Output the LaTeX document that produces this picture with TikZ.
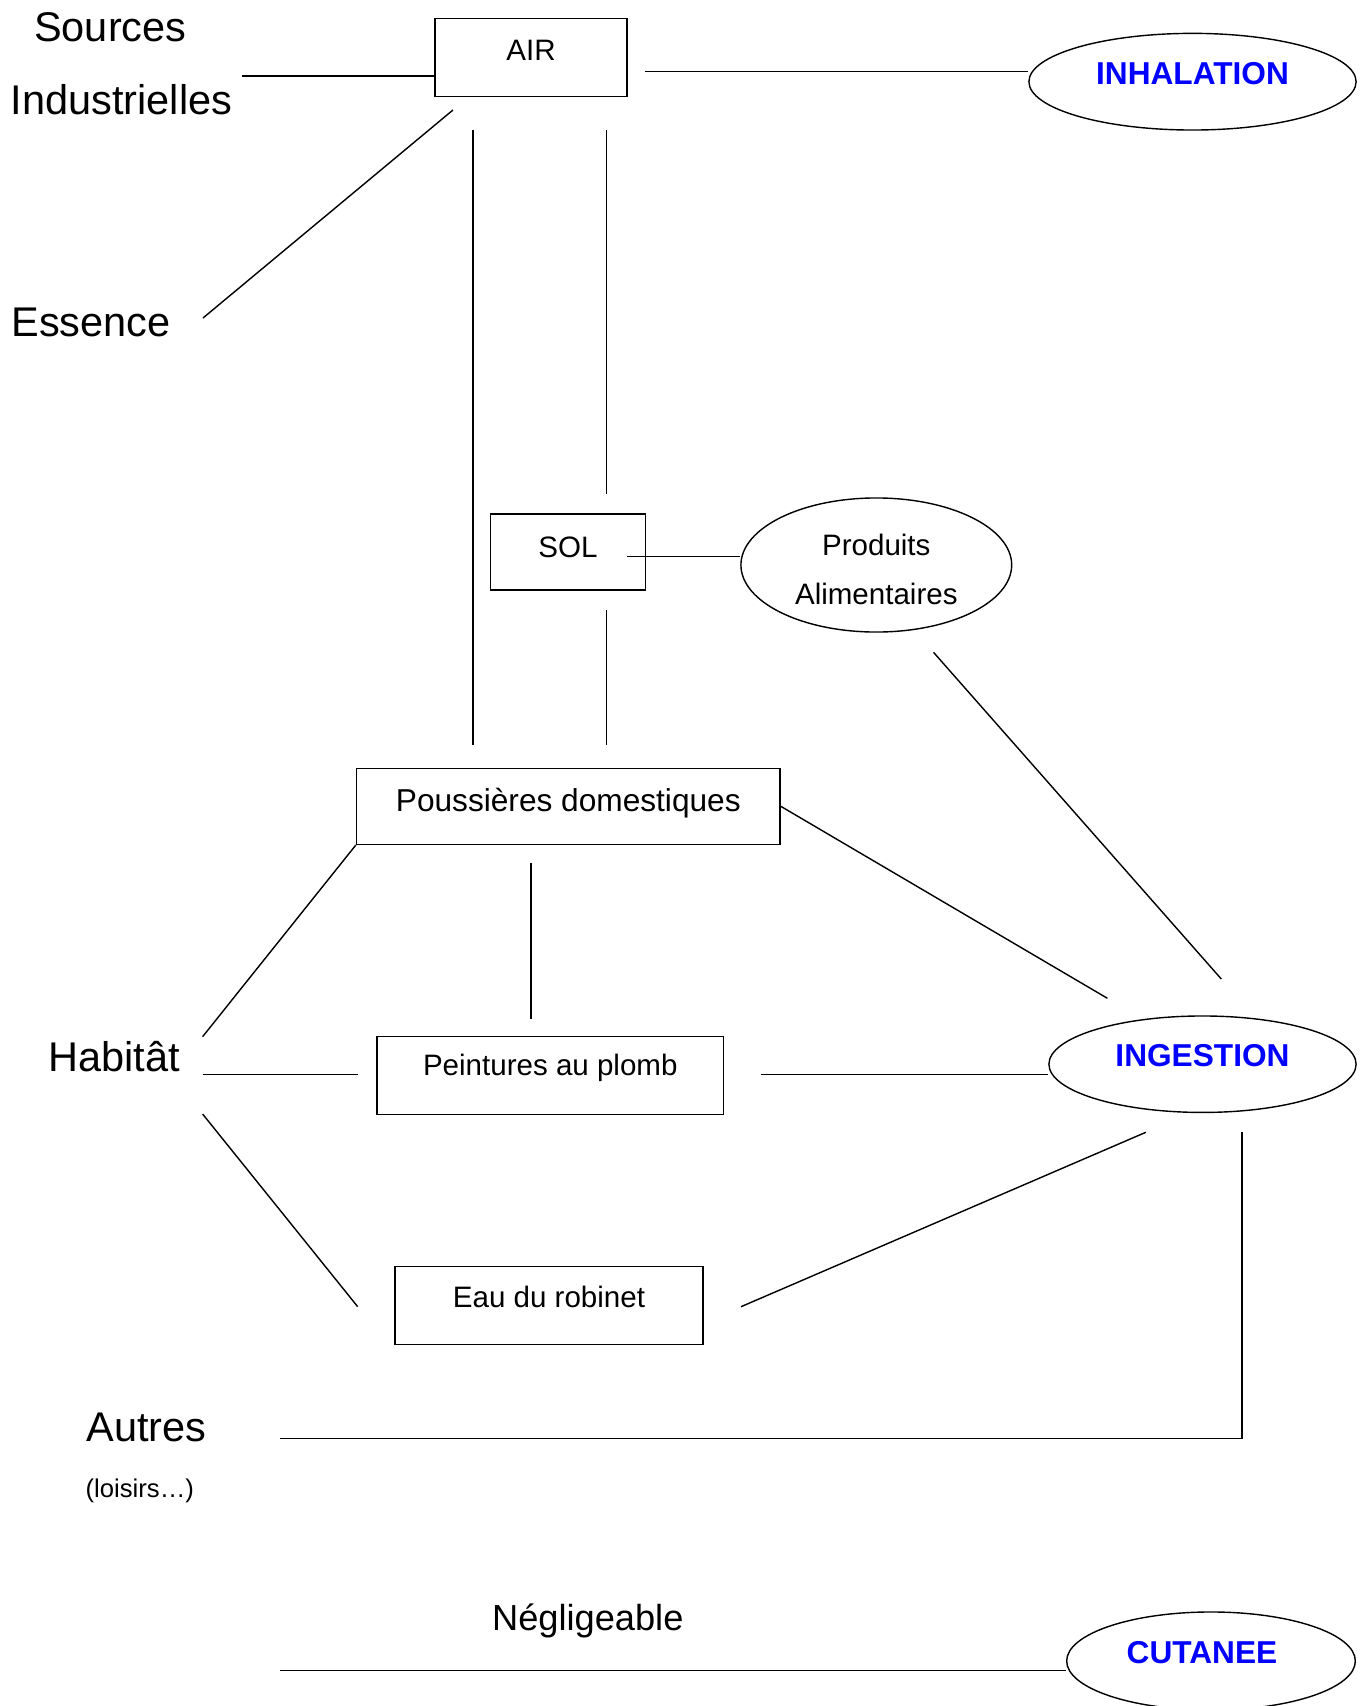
\documentclass[tikz,border=0pt]{standalone}
\usepackage{fontspec}
\setmainfont{Liberation Sans}
\usetikzlibrary{shapes.geometric}
\definecolor{routeblue}{RGB}{0,0,255}

\begin{document}
\begin{tikzpicture}[x=0.01cm,y=-0.01cm,
    srcbox/.style={draw,inner sep=0pt,anchor=base,font=\fontsize{8.4}{10}\selectfont},
    route/.style={draw,ellipse,inner sep=0pt,text=routeblue,font=\fontsize{9}{11}\selectfont\bfseries,text height=0.3cm},
    biglabel/.style={anchor=base,font=\fontsize{11.8}{14}\selectfont}]
    \useasboundingbox (0,0) rectangle (1369,1706);
    \clip (0,0) rectangle (1369,1706);

    %Nodes
    \node[biglabel] at (110.3,41.7) (sources) {Sources};
    \node[biglabel] at (121.5,115) (indus) {Industrielles};
    \node[biglabel] at (91,337) (essence) {Essence};
    \node[biglabel] at (114,1071.7) (habitat) {Habitât};
    \node[biglabel] at (146.3,1441) (autres) {Autres};
    \node[anchor=base,font=\fontsize{7.3}{9}\selectfont] at (139.8,1497) (loisirs) {(loisirs…)};
    \node[anchor=base,font=\fontsize{10.3}{12}\selectfont] at (587.8,1630.7) (neglig) {Négligeable};

    \node[srcbox,minimum width=1.92cm,text height=0.424cm,text depth=0.36cm] at (531,60.7) (air) {AIR};
    \node[srcbox,minimum width=1.551cm,text height=0.433cm,text depth=0.327cm] at (568,557.3) (sol) {SOL};
    \node[srcbox,minimum width=4.233cm,text height=0.427cm,text depth=0.333cm,font=\fontsize{9}{11}\selectfont] at (568.3,811) (pouss) {Poussières domestiques};
    \node[srcbox,minimum width=3.467cm,text height=0.383cm,text depth=0.393cm] at (550.3,1075) (peint) {Peintures au plomb};
    \node[srcbox,minimum width=3.079cm,text height=0.406cm,text depth=0.37cm] at (549,1307.3) (eau) {Eau du robinet};

    \node[draw,ellipse,inner sep=0pt,minimum width=2.706cm,minimum height=1.34cm,align=center,font=\fontsize{8.4}{13.78}\selectfont,text height=0.836cm,text depth=0.05cm] at (876.3,565) (prod) {Produits\\Alimentaires};

    \node[route,minimum width=3.27cm,minimum height=0.966cm,text depth=0.248cm] at (1192.5,81.7) (inh) {INHALATION};
    \node[route,minimum width=3.07cm,minimum height=0.964cm,text depth=0.25cm] at (1202.5,1064.2) (ing) {INGESTION};
    \node[route,minimum width=2.885cm,minimum height=0.98cm,text depth=0.254cm] at (1211,1661) (cut) {CUTANEE\hspace*{0.18cm}};

    %Line ends
    \coordinate (src) at (242,76);
    \coordinate (essA) at (203,318);
    \coordinate (essB) at (453,110);
    \coordinate (airR) at (645,71.7);
    \coordinate (airL1) at (473,130);
    \coordinate (pouL1) at (473,745);
    \coordinate (airL2) at (606.5,130);
    \coordinate (solT) at (606.5,494);
    \coordinate (solR) at (627,556.7);
    \coordinate (solB) at (606.5,610);
    \coordinate (pouL2) at (606.5,745);
    \coordinate (prodB) at (933.5,652.3);
    \coordinate (ingT1) at (1221.3,979);
    \coordinate (ingT2) at (1107.4,998.3);
    \coordinate (habT) at (202.6,1036.7);
    \coordinate (pouB) at (531,863.3);
    \coordinate (peiT) at (531,1019);
    \coordinate (habR) at (202.6,1074.3);
    \coordinate (peiL) at (357.7,1074.3);
    \coordinate (peiR) at (761,1074.3);
    \coordinate (habB) at (202.6,1114);
    \coordinate (eauL) at (357.7,1306.7);
    \coordinate (eauR) at (741,1306.7);
    \coordinate (ingB1) at (1145.8,1132.3);
    \coordinate (ingB2) at (1241.8,1132.3);
    \coordinate (autR) at (280.3,1438.5);
    \coordinate (negL) at (280.3,1670.7);

    %Lines
    \draw (src) -- (src -| air.west);
    \draw (essA) -- (essB);
    \draw (airR) -- (airR -| inh.west);
    \draw (airL1) -- (pouL1);
    \draw (airL2) -- (solT);
    \draw (solR) -- (solR -| prod.west);
    \draw (solB) -- (pouL2);
    \draw (prodB) -- (ingT1);
    \draw (pouss.east) -- (ingT2);
    \draw (pouss.south west) -- (habT);
    \draw (pouB) -- (peiT);
    \draw (habR) -- (peiL);
    \draw (peiR) -- (peiR -| ing.west);
    \draw (habB) -- (eauL);
    \draw (eauR) -- (ingB1);
    \draw (ingB2) |- (autR);
    \draw (negL) -- (negL -| cut.west);
\end{tikzpicture}
\end{document}
